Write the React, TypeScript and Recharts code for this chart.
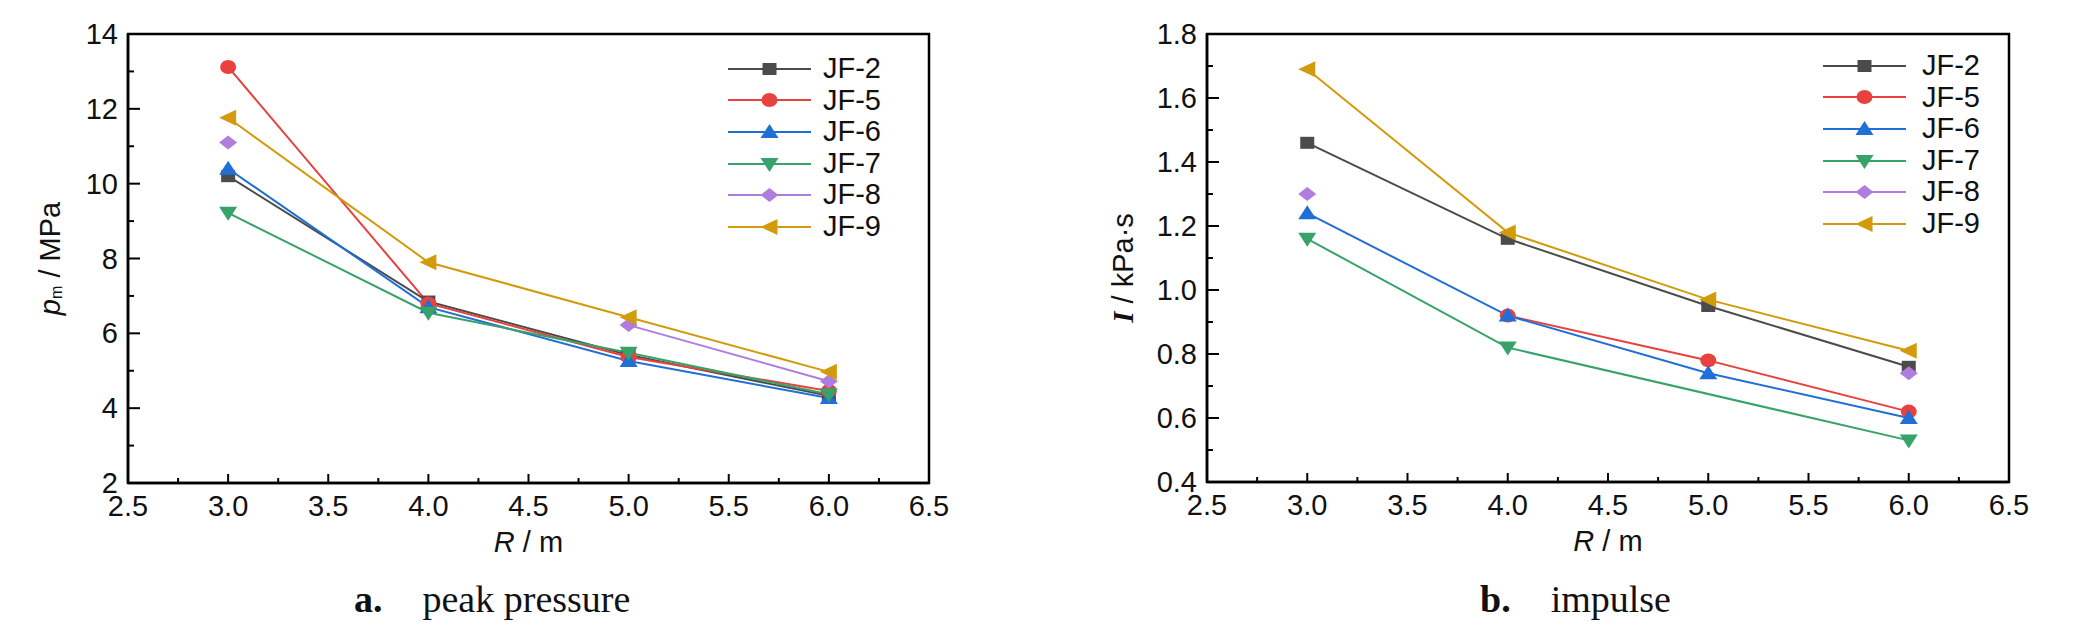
import React from 'react';
import { LineChart, Line, XAxis, YAxis, ReferenceArea, Legend } from 'recharts';

// stand-off distance R (m)
const distances = [3.0, 4.0, 5.0, 6.0];

// a. peak pressure p_m (MPa)
const pmJF2 = [10.2, 6.85, 5.42, 4.33];
const pmJF5 = [13.12, 6.8, 5.37, 4.46];
const pmJF6 = [10.4, 6.7, 5.26, 4.27];
const pmJF7 = [9.22, 6.55, 5.48, 4.37];
const pmJF8 = [11.1, null, 6.22, 4.72];
const pmJF9 = [11.76, 7.9, 6.43, 4.97];

// b. impulse I (kPa·s)
const impJF2 = [1.46, 1.16, 0.95, 0.76];
const impJF5 = [null, 0.92, 0.78, 0.62];
const impJF6 = [1.24, 0.92, 0.74, 0.6];
const impJF7 = [1.16, 0.82, null, 0.53];
const impJF8 = [1.3, null, null, 0.74];
const impJF9 = [1.69, 1.18, 0.97, 0.81];

const xTicks = [2.5, 2.75, 3, 3.25, 3.5, 3.75, 4, 4.25, 4.5, 4.75, 5, 5.25, 5.5, 5.75, 6, 6.25, 6.5];
const pmTicks = [2, 3, 4, 5, 6, 7, 8, 9, 10, 11, 12, 13, 14];
const impTicks = [0.4, 0.5, 0.6, 0.7, 0.8, 0.9, 1.0, 1.1, 1.2, 1.3, 1.4, 1.5, 1.6, 1.7, 1.8];

const series = [
  { key: 'jf2', name: 'JF-2', color: '#4b4b4b', shape: 'square' },
  { key: 'jf5', name: 'JF-5', color: '#e8413e', shape: 'circle' },
  { key: 'jf6', name: 'JF-6', color: '#1f6fd6', shape: 'up' },
  { key: 'jf7', name: 'JF-7', color: '#37a36a', shape: 'down' },
  { key: 'jf8', name: 'JF-8', color: '#b07ddf', shape: 'diamond' },
  { key: 'jf9', name: 'JF-9', color: '#d29b0b', shape: 'left' },
];

const pmData = distances.map((r, i) => ({
  r,
  jf2: pmJF2[i],
  jf5: pmJF5[i],
  jf6: pmJF6[i],
  jf7: pmJF7[i],
  jf8: pmJF8[i],
  jf9: pmJF9[i],
}));

const impData = distances.map((r, i) => ({
  r,
  jf2: impJF2[i],
  jf5: impJF5[i],
  jf6: impJF6[i],
  jf7: impJF7[i],
  jf8: impJF8[i],
  jf9: impJF9[i],
}));

const SANS = '"Liberation Sans Narrow", "Liberation Sans", Arial, sans-serif';
const SERIF = '"Liberation Serif", "Times New Roman", serif';

function Marker({ shape, cx, cy, color }: { shape: string; cx: number; cy: number; color: string }) {
  switch (shape) {
    case 'square':
      return <rect x={cx - 7} y={cy - 6} width={14} height={12} fill={color} />;
    case 'circle':
      return <ellipse cx={cx} cy={cy} rx={8} ry={7} fill={color} />;
    case 'up':
      return <polygon points={`${cx},${cy - 8} ${cx + 9},${cy + 6} ${cx - 9},${cy + 6}`} fill={color} />;
    case 'down':
      return <polygon points={`${cx - 9},${cy - 6} ${cx + 9},${cy - 6} ${cx},${cy + 8}`} fill={color} />;
    case 'diamond':
      return <polygon points={`${cx},${cy - 7} ${cx + 9},${cy} ${cx},${cy + 7} ${cx - 9},${cy}`} fill={color} />;
    default:
      return <polygon points={`${cx - 9},${cy} ${cx + 8},${cy - 8} ${cx + 8},${cy + 8}`} fill={color} />;
  }
}

const XTick = ({ x, y, payload }: any) => {
  const v = payload.value;
  const major = Math.abs(v * 2 - Math.round(v * 2)) < 1e-6;
  return (
    <g>
      <line x1={x} x2={x} y1={y} y2={y - (major ? 9 : 5)} stroke="#000" strokeWidth={2} />
      {major && (
        <text x={x} y={y + 23} textAnchor="middle" dominantBaseline="central" fontSize={29} fontFamily={SANS} fill="#111">
          {v.toFixed(1)}
        </text>
      )}
    </g>
  );
};

const makeYTick = (isMajor: (v: number) => boolean, fmt: (v: number) => string) => ({ x, y, payload }: any) => {
  const v = payload.value;
  const major = isMajor(v);
  return (
    <g>
      <line x1={x} x2={x + (major ? 12 : 6)} y1={y} y2={y} stroke="#000" strokeWidth={2} />
      {major && (
        <text x={x - 10} y={y} textAnchor="end" dominantBaseline="central" fontSize={29} fontFamily={SANS} fill="#111">
          {fmt(v)}
        </text>
      )}
    </g>
  );
};

const PmTick = makeYTick((v) => v % 2 === 0, (v) => String(v));
const ImpTick = makeYTick((v) => Math.abs(v * 5 - Math.round(v * 5)) < 1e-6, (v) => v.toFixed(1));

const makeLegend = (gap: number) => ({ payload }: any) => (
  <div style={{ fontFamily: SANS }}>
    {(payload || []).map((entry: any) => {
      const s = series.find((d) => d.name === entry.value) || series[0];
      return (
        <div key={s.key} style={{ display: 'flex', alignItems: 'center', height: 31.6 }}>
          <svg width={83} height={20} style={{ display: 'block' }}>
            <line x1={0} x2={83} y1={10} y2={10} stroke={s.color} strokeWidth={2} />
            <Marker shape={s.shape} cx={41.5} cy={10} color={s.color} />
          </svg>
          <span style={{ marginLeft: gap, fontSize: 29, lineHeight: '31.6px', color: '#111' }}>{entry.value}</span>
        </div>
      );
    })}
  </div>
);

const LeftLegend = makeLegend(12);
const RightLegend = makeLegend(16);

const xTitle = ({ viewBox }: any) => (
  <text
    x={viewBox.x + viewBox.width / 2}
    y={viewBox.y + 59}
    textAnchor="middle"
    dominantBaseline="central"
    fontSize={29}
    fontFamily={SANS}
    fill="#111"
  >
    <tspan fontStyle="italic">R</tspan>
    <tspan> / m</tspan>
  </text>
);

function Panel({
  data,
  yDomain,
  yTicks,
  YTick,
  margin,
  legendLeft,
  legendTop,
  LegendContent,
  yTitle,
  yTitleDx,
  yTitleDy,
  connectJF7,
}: any) {
  const width = 1037;
  const height = 637;
  const plotLeft = margin.left + 1;
  const plotTop = margin.top;
  const plotH = height - margin.top - margin.bottom - 1;
  const tx = plotLeft - yTitleDx;
  const ty = plotTop + plotH / 2 + yTitleDy;
  return (
    <div style={{ position: 'relative', width, height }}>
      <LineChart width={width} height={height} data={data} margin={margin}>
        <ReferenceArea x1={2.5} x2={6.5} y1={yDomain[0]} y2={yDomain[1]} fill="none" stroke="#000" strokeWidth={2.5} />
        <XAxis
          dataKey="r"
          type="number"
          domain={[2.5, 6.5]}
          ticks={xTicks}
          interval={0}
          height={1}
          tickSize={0}
          tickMargin={0}
          tickLine={false}
          axisLine={{ stroke: '#000', strokeWidth: 2.5 }}
          tick={<XTick />}
          label={{ content: xTitle }}
        />
        <YAxis
          type="number"
          domain={yDomain}
          ticks={yTicks}
          interval={0}
          width={1}
          tickSize={0}
          tickMargin={0}
          tickLine={false}
          axisLine={{ stroke: '#000', strokeWidth: 2.5 }}
          tick={<YTick />}
          allowDataOverflow
        />
        <Legend
          layout="vertical"
          align="center"
          verticalAlign="middle"
          content={<LegendContent />}
          wrapperStyle={{ left: legendLeft, top: legendTop, width: 'auto', height: 'auto' }}
        />
        {series.map((s) => (
          <Line
            key={s.key}
            dataKey={s.key}
            name={s.name}
            stroke={s.color}
            strokeWidth={2}
            connectNulls={s.key === 'jf7' && connectJF7}
            isAnimationActive={false}
            activeDot={false}
            dot={(p: any) =>
              p.cy == null || p.value == null ? (
                <g key={p.key} />
              ) : (
                <Marker key={p.key} shape={s.shape} cx={p.cx} cy={p.cy} color={s.color} />
              )
            }
          />
        ))}
      </LineChart>
      <svg
        width={width}
        height={height}
        style={{ position: 'absolute', left: 0, top: 0, pointerEvents: 'none' }}
      >
        <text
          x={tx}
          y={ty}
          transform={`rotate(-90, ${tx}, ${ty})`}
          textAnchor="middle"
          dominantBaseline="central"
          fontSize={29}
          fontFamily={SANS}
          fill="#111"
        >
          {yTitle}
        </text>
      </svg>
    </div>
  );
}

const captionStyle: React.CSSProperties = {
  position: 'absolute',
  top: 576,
  fontFamily: SERIF,
  fontSize: 38,
  lineHeight: '46px',
  color: '#111',
  whiteSpace: 'nowrap',
};

export default function App() {
  return (
    <div style={{ position: 'absolute', left: 0, top: 0, width: 2074, height: 637, background: '#fff' }}>
      <div style={{ position: 'absolute', left: 0, top: 0 }}>
        <Panel
          data={pmData}
          yDomain={[2, 14]}
          yTicks={pmTicks}
          YTick={PmTick}
          margin={{ top: 34, right: 108, bottom: 153, left: 127 }}
          legendLeft={728}
          legendTop={53}
          LegendContent={LeftLegend}
          yTitleDx={78}
          yTitleDy={0}
          connectJF7={false}
          yTitle={
            <>
              <tspan fontStyle="italic">p</tspan>
              <tspan fontSize={16} dy={6}>m</tspan>
              <tspan dy={-6}> / MPa</tspan>
            </>
          }
        />
      </div>
      <div style={{ position: 'absolute', left: 1037, top: 0 }}>
        <Panel
          data={impData}
          yDomain={[0.4, 1.8]}
          yTicks={impTicks}
          YTick={ImpTick}
          margin={{ top: 34, right: 65, bottom: 154, left: 169 }}
          legendLeft={786}
          legendTop={50}
          LegendContent={RightLegend}
          yTitleDx={84}
          yTitleDy={10}
          connectJF7={true}
          yTitle={
            <>
              <tspan fontStyle="italic" fontWeight="bold" fontFamily={SERIF}>I</tspan>
              <tspan> / kPa·s</tspan>
            </>
          }
        />
      </div>
      <div style={{ ...captionStyle, left: 354 }}>
        <b>a.</b>
        <span style={{ marginLeft: 40 }}>peak pressure</span>
      </div>
      <div style={{ ...captionStyle, left: 1480 }}>
        <b>b.</b>
        <span style={{ marginLeft: 40 }}>impulse</span>
      </div>
    </div>
  );
}
